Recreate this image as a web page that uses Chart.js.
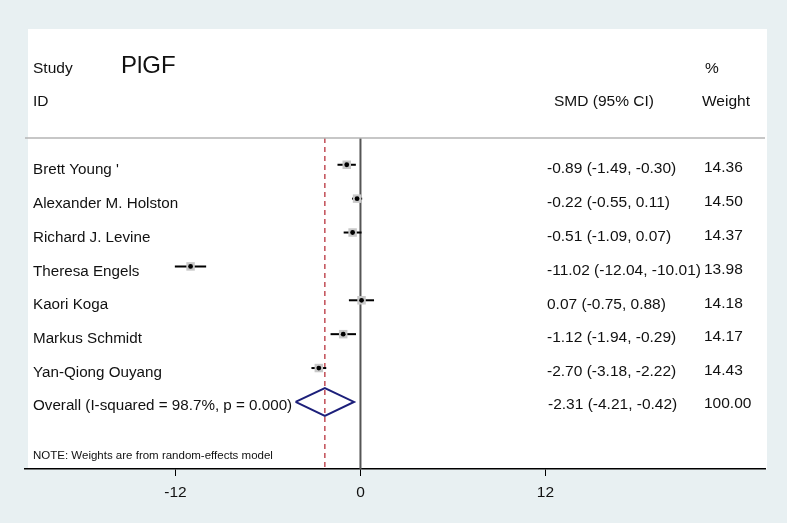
<!DOCTYPE html>
<html>
<head>
<meta charset="UTF-8" />
<title>PlGF forest plot</title>
<script src="https://cdn.jsdelivr.net/npm/chart.js@4"></script>
<style>
  html, body { margin: 0; padding: 0; background: #e8f0f2; }
  canvas { display: block; }
</style>
</head>
<body>
<canvas id="chart" width="787" height="523"></canvas>
<script>
const studies = ["Brett Young '", "Alexander M. Holston", "Richard J. Levine", "Theresa Engels",
  "Kaori Koga", "Markus Schmidt", "Yan-Qiong Ouyang"];
const smd = [-0.89, -0.22, -0.51, -11.02, 0.07, -1.12, -2.70];
const ciLow = [-1.49, -0.55, -1.09, -12.04, -0.75, -1.94, -3.18];
const ciHigh = [-0.30, 0.11, 0.07, -10.01, 0.88, -0.29, -2.22];
const weights = [14.36, 14.50, 14.37, 13.98, 14.18, 14.17, 14.43];

const overallLabel = "Overall (I-squared = 98.7%, p = 0.000)";
const overallSmd = -2.31;
const overallLow = -4.21;
const overallHigh = -0.42;
const overallWeight = 100.00;

const xTicks = [-12, 0, 12];

const FONT = "'Liberation Sans', Arial, Helvetica, sans-serif";
const rowOf = (i) => i + 1;
const overallRow = studies.length + 1;
const yMin = 0.21, yMax = 9.98;

const fmt = (v) => v.toFixed(2);
const ciText = (e, lo, hi) => `${fmt(e)} (${fmt(lo)}, ${fmt(hi)})`;

const datasets = [];

// study estimates (black dots) on top
datasets.push({
  data: smd.map((v, i) => ({ x: v, y: rowOf(i) })),
  pointStyle: "circle", pointRadius: 2.4, backgroundColor: "#000", borderWidth: 0,
  order: 0,
});
// weight boxes
datasets.push({
  data: smd.map((v, i) => ({ x: v, y: rowOf(i) })),
  pointStyle: "rect", pointRadius: 6, backgroundColor: "#c8c8c8", borderWidth: 0,
  order: 1,
});
// confidence intervals
smd.forEach((v, i) => {
  datasets.push({
    data: [{ x: ciLow[i], y: rowOf(i) }, { x: ciHigh[i], y: rowOf(i) }],
    showLine: true, borderColor: "#000", borderWidth: 2, pointRadius: 0,
    order: 2,
  });
});
// overall diamond
const dh = 0.41;
datasets.push({
  data: [
    { x: overallLow, y: overallRow },
    { x: overallSmd, y: overallRow - dh },
    { x: overallHigh, y: overallRow },
    { x: overallSmd, y: overallRow + dh },
    { x: overallLow, y: overallRow },
  ],
  showLine: true, borderColor: "#1c1f7a", borderWidth: 2, pointRadius: 0,
  order: 2,
});
// null line
datasets.push({
  data: [{ x: 0, y: yMin }, { x: 0, y: yMax }],
  showLine: true, borderColor: "#555", borderWidth: 2, pointRadius: 0,
  order: 3,
});
// overall effect dashed line
datasets.push({
  data: [{ x: overallSmd, y: yMin }, { x: overallSmd, y: yMax }],
  showLine: true, borderColor: "#b8323c", borderWidth: 1.3, borderDash: [5, 4], pointRadius: 0,
  order: 3,
});

const panel = {
  id: "panel",
  beforeDraw(chart) {
    const ctx = chart.ctx;
    ctx.save();
    ctx.fillStyle = "#fff";
    ctx.fillRect(28, 29, 739, 440);
    ctx.restore();
  },
  afterDraw(chart) {
    const { ctx, chartArea } = chart;
    const y = chart.scales.y;
    ctx.save();
    // header rule
    ctx.strokeStyle = "#b4b4b4";
    ctx.lineWidth = 1.5;
    ctx.beginPath();
    ctx.moveTo(chartArea.left, chartArea.top);
    ctx.lineTo(chartArea.right, chartArea.top);
    ctx.stroke();

    ctx.fillStyle = "#111";
    ctx.textBaseline = "middle";
    ctx.textAlign = "left";
    ctx.font = `15.5px ${FONT}`;
    ctx.fillText("Study", 33, 69);
    ctx.fillText("ID", 33, 102);
    ctx.fillText("%", 705, 69);
    ctx.fillText("SMD (95% CI)", 554, 102);
    ctx.fillText("Weight", 702, 102);
    ctx.font = `24px ${FONT}`;
    ctx.fillText("PlGF", 121, 66);

    studies.forEach((s, i) => {
      const py = y.getPixelForValue(rowOf(i));
      ctx.font = `15.2px ${FONT}`;
      ctx.fillText(s, 33, py + 5);
      ctx.font = `15.5px ${FONT}`;
      ctx.fillText(ciText(smd[i], ciLow[i], ciHigh[i]), 547, py + 4);
      ctx.fillText(fmt(weights[i]), 704, py + 3);
    });
    const oy = y.getPixelForValue(overallRow);
    ctx.font = `15.2px ${FONT}`;
    ctx.fillText(overallLabel, 33, oy + 4);
    ctx.font = `15.5px ${FONT}`;
    ctx.fillText(ciText(overallSmd, overallLow, overallHigh), 548, oy + 3);
    ctx.fillText(fmt(overallWeight), 704, oy + 2);

    ctx.font = `11.5px ${FONT}`;
    ctx.fillText("NOTE: Weights are from random-effects model", 33, 456);
    ctx.restore();
  },
};

new Chart(document.getElementById("chart"), {
  type: "scatter",
  data: { datasets },
  options: {
    responsive: false,
    animation: false,
    layout: { padding: { left: 25, right: 22, top: 138, bottom: 0 } },
    plugins: { legend: { display: false }, tooltip: { enabled: false } },
    scales: {
      x: {
        type: "linear",
        min: -21.76,
        max: 26.24,
        afterBuildTicks: (s) => { s.ticks = xTicks.map((v) => ({ value: v })); },
        afterFit: (s) => { s.height = 54; },
        grid: { drawOnChartArea: false, drawTicks: true, tickLength: 7, color: "#000", lineWidth: 1 },
        border: { display: true, color: "#000", width: 1.5 },
        ticks: { color: "#111", font: { size: 15.5, family: FONT }, padding: 7, maxRotation: 0 },
      },
      y: {
        type: "linear",
        min: yMin,
        max: yMax,
        reverse: true,
        display: false,
      },
    },
  },
  plugins: [panel],
});
</script>
</body>
</html>
